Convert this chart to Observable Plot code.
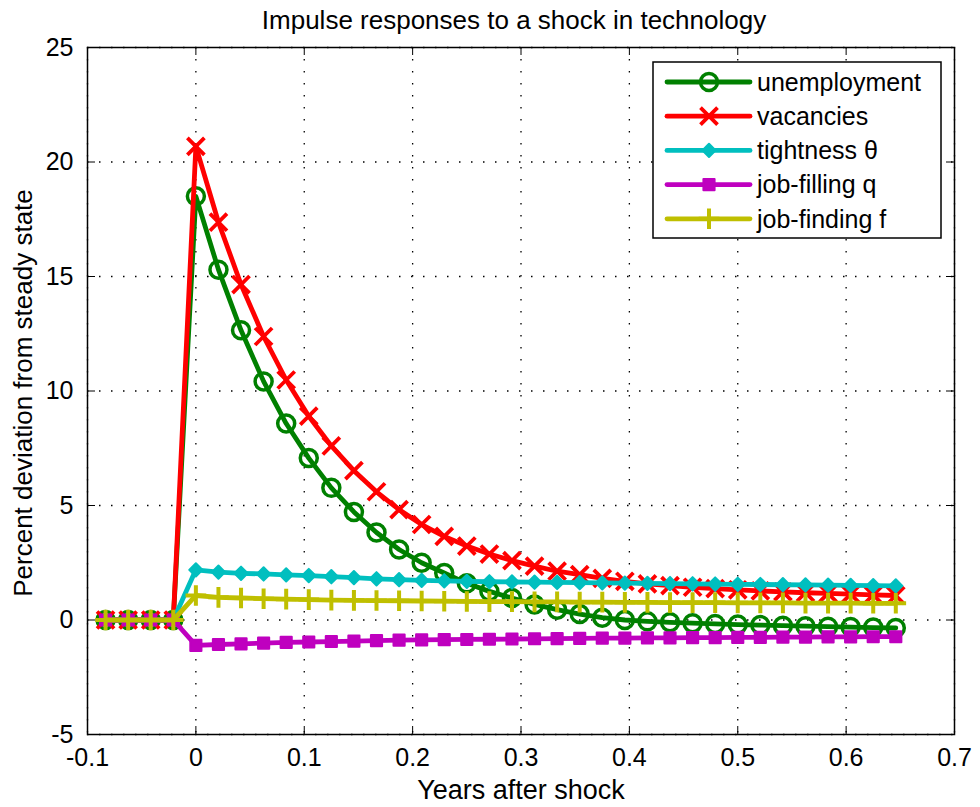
<!DOCTYPE html>
<html><head><meta charset="utf-8">
<script src="https://cdn.jsdelivr.net/npm/d3@7"></script>
<script src="https://cdn.jsdelivr.net/npm/@observablehq/plot@0.6"></script>
<style>
body{margin:0;background:#fff;}
#wrap{position:relative;width:980px;height:807px;font-family:"Liberation Sans",Arial,sans-serif;}
#wrap svg{font-family:"Liberation Sans",Arial,sans-serif;}
</style></head><body><div id="wrap"></div>
<script>
// time grid: periods relative to the shock (48 periods per year)
const periods = [-4,-3,-2,-1,0,1,2,3,4,5,6,7,8,9,10,11,12,13,14,15,16,17,18,19,20,21,22,23,24,25,26,27,28,29,30,31];
const periodsPerYear = 48;

const unemployment = [0,0,0,0, 18.5,15.3,12.65,10.42,8.58,7.07,5.77,4.72,3.82,3.08,2.5,2.05,1.6,1.25,0.96,0.68,0.45,0.26,0.1,0.0,-0.06,-0.1,-0.14,-0.17,-0.2,-0.22,-0.25,-0.27,-0.29,-0.31,-0.33,-0.35];
const vacancies = [0,0,0,0, 20.68,17.37,14.65,12.38,10.48,8.9,7.6,6.52,5.6,4.82,4.17,3.65,3.23,2.88,2.59,2.35,2.13,1.98,1.82,1.69,1.58,1.5,1.43,1.37,1.32,1.27,1.23,1.19,1.16,1.13,1.1,1.07];
const tightness = [0,0,0,0, 2.19,2.09,2.04,2.01,1.97,1.94,1.89,1.85,1.8,1.76,1.73,1.71,1.69,1.67,1.66,1.65,1.64,1.63,1.62,1.61,1.6,1.59,1.58,1.57,1.56,1.55,1.54,1.53,1.52,1.51,1.5,1.49];
const jobFilling = [0,0,0,0, -1.11,-1.07,-1.04,-1.01,-0.98,-0.96,-0.94,-0.92,-0.9,-0.88,-0.87,-0.86,-0.85,-0.84,-0.83,-0.82,-0.81,-0.8,-0.79,-0.79,-0.78,-0.78,-0.77,-0.77,-0.76,-0.76,-0.75,-0.75,-0.74,-0.74,-0.73,-0.73];
const jobFinding = [0,0,0,0, 1.07,0.99,0.96,0.93,0.91,0.89,0.87,0.86,0.85,0.84,0.83,0.82,0.81,0.8,0.8,0.79,0.79,0.78,0.78,0.77,0.77,0.76,0.76,0.76,0.75,0.75,0.75,0.74,0.74,0.74,0.73,0.73];

const seriesNames = ["unemployment","vacancies","tightness  \u03b8","job-filling q","job-finding f"];
const xTicks = [-0.1,0,0.1,0.2,0.3,0.4,0.5,0.6,0.7];
const yTicks = [-5,0,5,10,15,20,25];
const title = "Impulse responses to a shock in technology";
const xLabel = "Years after shock";
const yLabel = "Percent deviation from steady state";

const styles = [
  {color:"#008000", symbol:"circle", r:8.5, fill:"none", sw:3.5},
  {color:"#ff0000", symbol:"times", r:7.8, fill:"none", sw:3.8},
  {color:"#00bfbf", symbol:"diamond2", r:6, fill:"#00bfbf", sw:2},
  {color:"#bf00bf", symbol:"square", r:6.3, fill:"#bf00bf", sw:2},
  {color:"#bfbf00", symbol:"plus", r:6.7, fill:"none", sw:4}
];
const valueArrays = [unemployment, vacancies, tightness, jobFilling, jobFinding];
const series = valueArrays.map((vals,i)=>({
  name: seriesNames[i],
  style: styles[i],
  data: vals.map((v,j)=>({t: periods[j]/periodsPerYear, v}))
}));

const W=980,H=807,mL=87,mR=26,mT=47,mB=73;
const innerW = W-mL-mR, innerH = H-mT-mB;
const tk = 8;

const marks = [
  Plot.gridX(xTicks, {stroke:"#000", strokeOpacity:1, strokeWidth:1.3, strokeDasharray:"1.5,10.5"}),
  Plot.gridY(yTicks, {stroke:"#000", strokeOpacity:1, strokeWidth:1.3, strokeDasharray:"1.5,10.5"}),
  Plot.tickX(xTicks, {x:d=>d, insetTop: innerH-tk, stroke:"#000"}),
  Plot.tickX(xTicks, {x:d=>d, insetBottom: innerH-tk, stroke:"#000"}),
  Plot.tickY(yTicks, {y:d=>d, insetRight: innerW-tk, stroke:"#000"}),
  Plot.tickY(yTicks, {y:d=>d, insetLeft: innerW-tk, stroke:"#000"})
];
for (const s of series) {
  const st = s.style;
  marks.push(Plot.line(s.data, {x:"t", y:"v", stroke: st.color, strokeWidth:4.8, strokeLinejoin:"round", strokeLinecap:"round"}));
  marks.push(Plot.dot(s.data, {x:"t", y:"v", symbol: st.symbol, r: st.r, stroke: st.color, fill: st.fill, strokeWidth: st.sw, strokeLinejoin:"round"}));
}
marks.push(
  Plot.frame({stroke:"#000", strokeWidth:1.5}),
  Plot.axisX(xTicks, {tickSize:0, tickPadding:14, fontSize:25, tickFormat:d=>String(d), label:null}),
  Plot.axisY(yTicks, {tickSize:0, tickPadding:14, fontSize:25, tickFormat:d=>String(d), label:null}),
  Plot.text([title], {text:d=>d, frameAnchor:"top", textAnchor:"middle", dy:-37, dx:-7, fontSize:26}),
  Plot.text([xLabel], {text:d=>d, frameAnchor:"bottom", textAnchor:"middle", dy:64, fontSize:27}),
  Plot.text([yLabel], {text:d=>d, frameAnchor:"left", textAnchor:"middle", rotate:-90, dx:-64, dy:2, fontSize:26})
);

const chart = Plot.plot({
  width: W, height: H,
  marginLeft: mL, marginRight: mR, marginTop: mT, marginBottom: mB,
  x: {domain: [-0.1, 0.7]},
  y: {domain: [-5, 25]},
  style: {background:"white", color:"black", fontFamily:"'Liberation Sans', Arial, sans-serif", fontSize:"24px"},
  marks
});
const wrap = document.getElementById("wrap");
wrap.appendChild(chart);

// legend overlay (top-right inside the plot frame)
const leg = d3.select(wrap).append("svg")
  .style("position","absolute").style("left","652px").style("top","61px")
  .attr("width",291).attr("height",179);
leg.append("rect").attr("x",1).attr("y",1).attr("width",288).attr("height",176)
  .attr("fill","white").attr("stroke","#000").attr("stroke-width",1.5);
const symMap = {circle:d3.symbolCircle, times:d3.symbolTimes, diamond2:d3.symbolDiamond2, square:d3.symbolSquare, plus:d3.symbolPlus};
series.forEach((s,i)=>{
  const y = 21 + i*34.2;
  const st = s.style;
  leg.append("line").attr("x1",15).attr("x2",98).attr("y1",y).attr("y2",y)
    .attr("stroke",st.color).attr("stroke-width",4.8).attr("stroke-linecap","round");
  leg.append("path").attr("d", d3.symbol(symMap[st.symbol], Math.PI*st.r*st.r)())
    .attr("transform",`translate(57,${y})`)
    .attr("fill", st.fill).attr("stroke", st.color).attr("stroke-width", st.sw).attr("stroke-linejoin","round");
  leg.append("text").attr("x",105).attr("y",y).attr("dy","0.35em")
    .attr("font-size",25).attr("fill","#000").text(s.name);
});
</script></body></html>
